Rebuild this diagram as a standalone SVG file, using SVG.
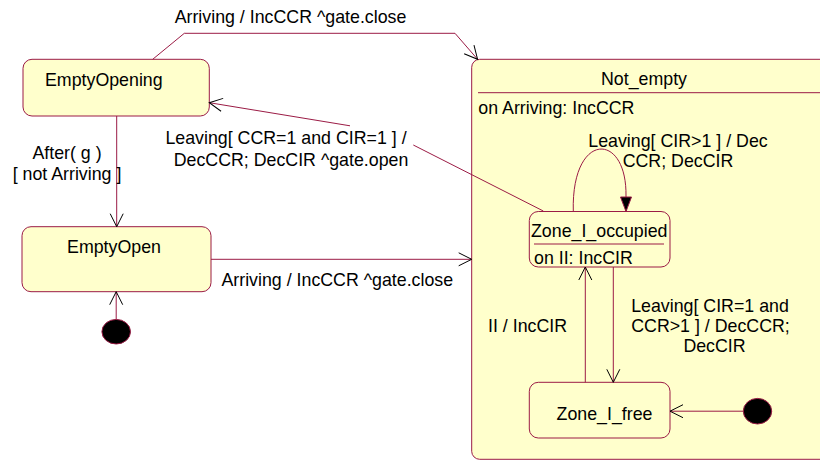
<svg xmlns="http://www.w3.org/2000/svg" width="820" height="460" viewBox="0 0 820 460">
  <style>
    .state { fill: #ffffcc; stroke: #9b1b45; stroke-width: 1; }
    .sep { stroke: #9b1b45; stroke-width: 1; }
    .init { fill: #000; stroke: #9b1b45; stroke-width: 1; }
    .edge { fill: none; stroke: #9b1b45; stroke-width: 1; }
    text { font-family: "Liberation Sans", Arial, sans-serif; font-size: 17.8px; fill: #000; }
    .mid { text-anchor: middle; }
  </style>
  <defs>
    <marker id="open" viewBox="-15 -8 17 16" refX="0" refY="0" markerWidth="17" markerHeight="16" markerUnits="userSpaceOnUse" orient="auto" overflow="visible">
      <path d="M-13,-6.5 L0,0 L-13,6.5" fill="none" stroke="#000" stroke-width="1"/>
    </marker>
    <marker id="filled" viewBox="-16 -7 17 14" refX="0" refY="0" markerWidth="17" markerHeight="14" markerUnits="userSpaceOnUse" orient="auto" overflow="visible">
      <path d="M-14.5,-5.5 L0,0 L-14.5,5.5 Z" fill="#000" stroke="#9b1b45" stroke-width="1"/>
    </marker>
  </defs>

  <rect width="820" height="460" fill="#fff"/>

  <!-- composite state -->
  <g id="Not_empty">
    <rect class="state" x="471.7" y="59.3" width="370" height="400" rx="8"/>
    <line class="sep" x1="478" y1="92.7" x2="820" y2="92.7"/>
    <text class="mid" x="644" y="85.4">Not_empty</text>
    <text x="478.3" y="113.5">on Arriving: IncCCR</text>
  </g>

  <g id="EmptyOpening">
    <rect class="state" x="23" y="59.3" width="186.3" height="56.7" rx="9"/>
    <text x="45" y="85.5">EmptyOpening</text>
  </g>

  <g id="EmptyOpen">
    <rect class="state" x="22" y="226.7" width="189" height="65" rx="9"/>
    <text class="mid" x="114" y="253.4">EmptyOpen</text>
  </g>

  <g id="Zone_I_occupied">
    <rect class="state" x="529.3" y="211.5" width="140.7" height="55.5" rx="9"/>
    <text x="531" y="236.7">Zone_I_occupied</text>
    <line class="sep" x1="534" y1="244" x2="664" y2="244"/>
    <text x="534" y="264">on II: IncCIR</text>
  </g>

  <g id="Zone_I_free">
    <rect class="state" x="529.3" y="382.3" width="140.7" height="55.7" rx="9"/>
    <text class="mid" x="604.5" y="420">Zone_I_free</text>
  </g>

  <g id="init_top">
    <ellipse class="init" cx="116.2" cy="331.7" rx="14.3" ry="12.3"/>
  </g>

  <g id="init_zone">
    <ellipse class="init" cx="757.5" cy="411.2" rx="14.2" ry="12.8"/>
  </g>

  <g id="connectors">
    <!-- EmptyOpening -> Not_empty -->
    <path class="edge" d="M152.7,59.3 L184.3,33.3 L455,33.3 L477.6,59.3" marker-end="url(#open)"/>
    <text class="mid" x="290.5" y="23">Arriving / IncCCR ^gate.close</text>

    <!-- EmptyOpening -> EmptyOpen -->
    <path class="edge" d="M116.7,116 L116.7,226.7" marker-end="url(#open)"/>
    <text class="mid" x="67" y="158.5">After( g )</text>
    <text class="mid" x="67" y="180.2">[ not Arriving ]</text>

    <!-- initial -> EmptyOpen -->
    <path class="edge" d="M116.2,319.4 L116.2,291.7" marker-end="url(#open)"/>

    <!-- EmptyOpen -> Not_empty -->
    <path class="edge" d="M211,259.3 L471.7,259.3" marker-end="url(#open)"/>
    <text class="mid" x="337.3" y="286">Arriving / IncCCR ^gate.close</text>

    <!-- Zone_I_occupied -> EmptyOpening -->
    <path class="edge" d="M543.3,211 L413.3,145"/>
    <path class="edge" d="M350,125.8 L209.3,102.7" marker-end="url(#open)"/>
    <text class="mid" x="286" y="143.5">Leaving[ CCR=1 and CIR=1 ] /</text>
    <text class="mid" x="291" y="165.8">DecCCR; DecCIR ^gate.open</text>

    <!-- self transition on Zone_I_occupied -->
    <path class="edge" d="M573.3,211.5 C571,131 627,131 626,196 L626,211.5" marker-end="url(#filled)"/>
    <text class="mid" x="678" y="146.8">Leaving[ CIR&gt;1 ] / Dec</text>
    <text class="mid" x="678" y="167">CCR; DecCIR</text>

    <!-- Zone_I_occupied -> Zone_I_free -->
    <path class="edge" d="M613.3,267 L613.3,382.3" marker-end="url(#open)"/>
    <text class="mid" x="710" y="312.3">Leaving[ CIR=1 and</text>
    <text class="mid" x="710.5" y="332.3">CCR&gt;1 ] / DecCCR;</text>
    <text class="mid" x="714.5" y="352.3">DecCIR</text>

    <!-- Zone_I_free -> Zone_I_occupied -->
    <path class="edge" d="M585.3,382.3 L585.3,267" marker-end="url(#open)"/>
    <text x="488" y="331.7">II / IncCIR</text>

    <!-- initial -> Zone_I_free -->
    <path class="edge" d="M743.3,411.2 L670,411.2" marker-end="url(#open)"/>
  </g>
</svg>
